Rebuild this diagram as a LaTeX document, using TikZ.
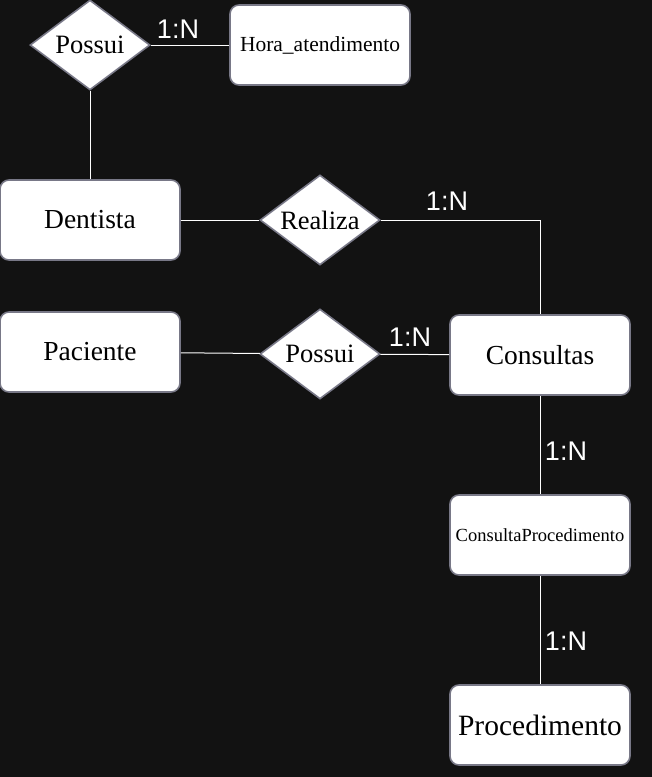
\documentclass[tikz,border=0pt]{standalone}
\usepackage{fontspec}
\setmainfont{Liberation Serif}
\newfontfamily\cardfont{Liberation Sans}
\usetikzlibrary{shapes.geometric}
\definecolor{fundo}{RGB}{18,18,18}
\definecolor{brilho}{RGB}{120,120,135}

\tikzset{
  entidade/.style={fill=white, draw=brilho, line width=1.6pt,
    rounded corners=9pt, minimum width=180pt,
    minimum height=80pt, inner sep=0pt, text=black,
    font=\fontsize{27.5}{30}\selectfont},
  relacao/.style={diamond, aspect=1.333, fill=white, draw=brilho,
    line width=1.6pt, minimum width=120pt,
    minimum height=90pt, inner sep=0pt, text=black,
    font=\fontsize{26.5}{28}\selectfont},
  card/.style={text=white, font=\cardfont\fontsize{27}{29}\selectfont},
  liga/.style={draw=white, line width=1pt}
}

\begin{document}
\begin{tikzpicture}[x=1pt,y=-1pt]
        % fundo escuro
        \useasboundingbox (0,0) rectangle (652,777);
        \fill[fundo] (0,0) rectangle (652,777);

        % entidades e relacionamentos
        \node[relacao] (possuiHora) at (90,45) {Possui};
        \node[entidade, font=\fontsize{21.5}{24}\selectfont] (hora) at (320,45) {Hora\_atendimento};
        \node[entidade] (dentista) at (90,220) {Dentista};
        \node[relacao] (realiza) at (320,220) {Realiza};
        \node[entidade] (paciente) at (90,352) {Paciente};
        \node[relacao] (possuiCons) at (320,354) {Possui};
        \node[entidade] (consultas) at (540,355) {Consultas};
        \node[entidade, font=\fontsize{18.5}{21}\selectfont] (consProc) at (540,535) {ConsultaProcedimento};
        \node[entidade, font=\fontsize{29.5}{32}\selectfont] (procedimento) at (540,725) {Procedimento};

        % ligacoes
        \draw[liga] (possuiHora) -- (hora);
        \draw[liga] (possuiHora) -- (dentista);
        \draw[liga] (dentista) -- (realiza);
        \draw[liga] (realiza) -| (consultas);
        \draw[liga] (paciente) -- (possuiCons);
        \draw[liga] (possuiCons) -- (consultas);
        \draw[liga] (consultas) -- (consProc);
        \draw[liga] (consProc) -- (procedimento);

        % cardinalidades
        \node[card] (cardHora) at (178,29) {1:N};
        \node[card] (cardRealiza) at (447,201) {1:N};
        \node[card] (cardCons) at (410,337) {1:N};
        \node[card] (cardConsProc) at (566,451) {1:N};
        \node[card] (cardProc) at (566,641) {1:N};
\end{tikzpicture}
\end{document}
